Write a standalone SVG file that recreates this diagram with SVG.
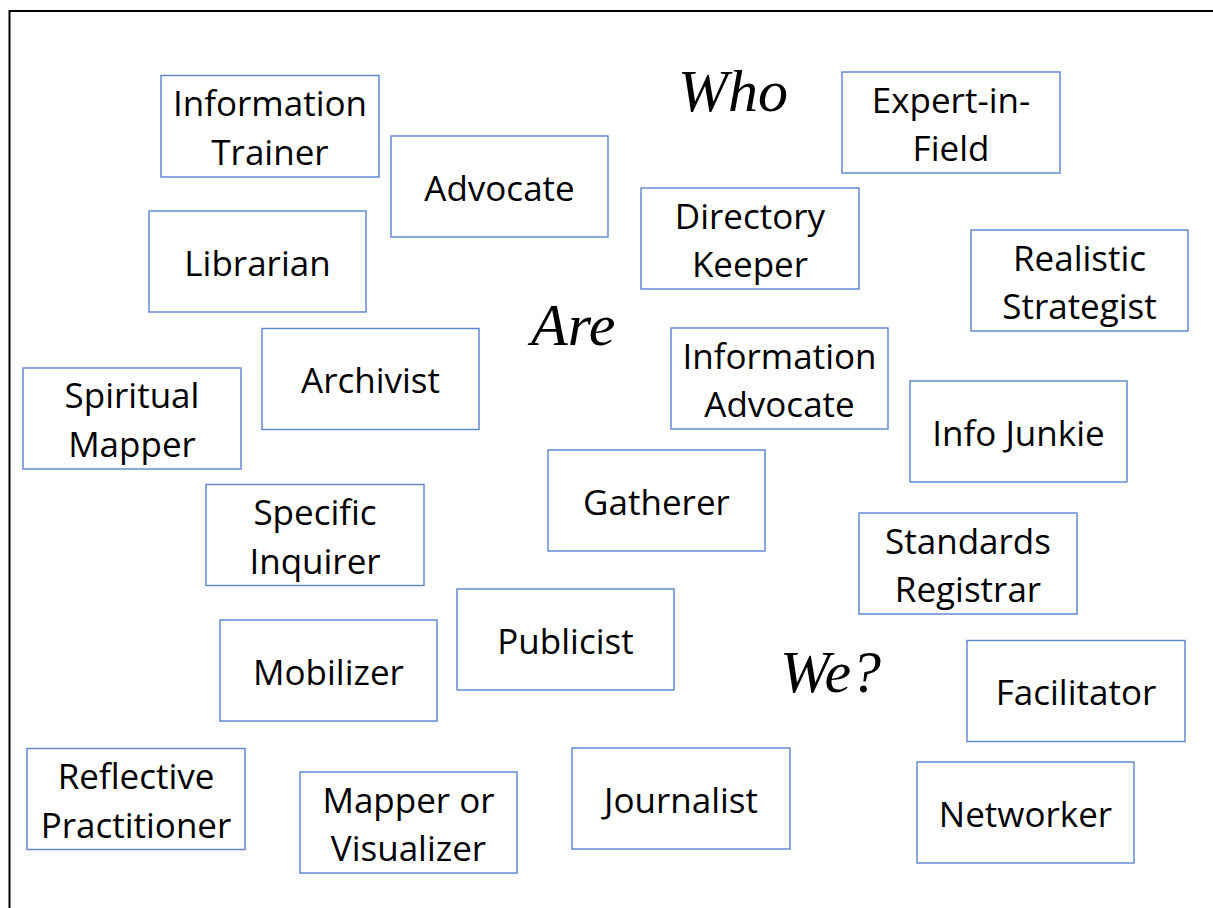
<svg xmlns="http://www.w3.org/2000/svg" width="1213" height="908" viewBox="0 0 1213 908">
<style>
.box rect{fill:#fff;stroke:#5b83cf;stroke-width:1.4}
.box text{font-family:"Open Sans","Liberation Sans",sans-serif;font-size:35px;fill:#000;text-anchor:middle}
.script{font-family:"Liberation Serif","DejaVu Serif",serif;font-style:italic;font-size:60px;fill:#000}
</style>
<rect x="0" y="0" width="1213" height="908" fill="#fff"/>
<path d="M9.5 910 V11 H1215" fill="none" stroke="#000" stroke-width="2"/>
<g id="connectors"></g>
<text class="script" x="678" y="111">Who</text>
<text class="script" x="531" y="345">Are</text>
<text class="script" x="780" y="692">We?</text>
<g id="n1" class="box"><rect x="161" y="75.5" width="218" height="101.5"/><text x="270" y="116">Information</text><text x="270" y="164.5">Trainer</text></g>
<g id="n2" class="box"><rect x="391" y="136" width="217" height="101"/><text x="499.5" y="201">Advocate</text></g>
<g id="n3" class="box"><rect x="842" y="72" width="218" height="101"/><text x="951" y="112.5">Expert-in-</text><text x="951" y="161">Field</text></g>
<g id="n4" class="box"><rect x="641" y="188" width="218" height="101"/><text x="750" y="228.5">Directory</text><text x="750" y="277">Keeper</text></g>
<g id="n5" class="box"><rect x="971" y="230" width="217" height="101"/><text x="1079.5" y="270.5">Realistic</text><text x="1079.5" y="319">Strategist</text></g>
<g id="n6" class="box"><rect x="149" y="211" width="217" height="101"/><text x="257.5" y="276">Librarian</text></g>
<g id="n7" class="box"><rect x="262" y="328.5" width="217" height="101"/><text x="370.5" y="393">Archivist</text></g>
<g id="n8" class="box"><rect x="671" y="328" width="217" height="101"/><text x="779.5" y="368.5">Information</text><text x="779.5" y="417">Advocate</text></g>
<g id="n9" class="box"><rect x="23" y="368" width="218" height="101"/><text x="132" y="408">Spiritual</text><text x="132" y="456.5">Mapper</text></g>
<g id="n10" class="box"><rect x="910" y="381" width="217" height="101"/><text x="1018.5" y="446">Info Junkie</text></g>
<g id="n11" class="box"><rect x="548" y="450" width="217" height="101"/><text x="656.5" y="515">Gatherer</text></g>
<g id="n12" class="box"><rect x="206" y="484.5" width="218" height="101"/><text x="315" y="525">Specific</text><text x="315" y="573.5">Inquirer</text></g>
<g id="n13" class="box"><rect x="859" y="513" width="218" height="101"/><text x="968" y="553.5">Standards</text><text x="968" y="602">Registrar</text></g>
<g id="n14" class="box"><rect x="457" y="589" width="217" height="101"/><text x="565.5" y="654">Publicist</text></g>
<g id="n15" class="box"><rect x="220" y="620" width="217" height="101"/><text x="328.5" y="685">Mobilizer</text></g>
<g id="n16" class="box"><rect x="967" y="640.5" width="218" height="101"/><text x="1076" y="705">Facilitator</text></g>
<g id="n17" class="box"><rect x="27" y="748.5" width="218" height="101"/><text x="136" y="789">Reflective</text><text x="136" y="837.5">Practitioner</text></g>
<g id="n18" class="box"><rect x="300" y="772" width="217" height="101"/><text x="408.5" y="812.5">Mapper or</text><text x="408.5" y="861">Visualizer</text></g>
<g id="n19" class="box"><rect x="572" y="748" width="218" height="101"/><text x="681" y="813">Journalist</text></g>
<g id="n20" class="box"><rect x="917" y="762" width="217" height="101"/><text x="1025.5" y="827">Networker</text></g>
</svg>
